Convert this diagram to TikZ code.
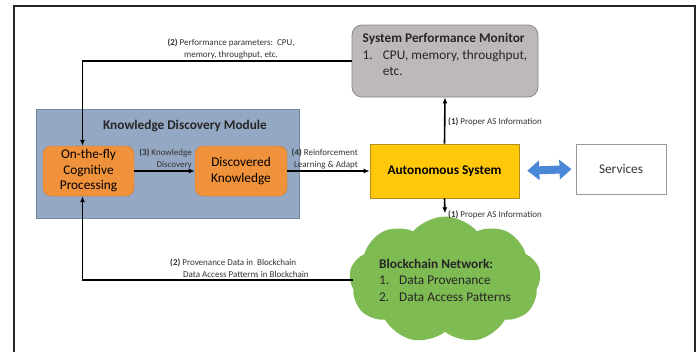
\documentclass[tikz,border=0pt]{standalone}
\usepackage{fontspec}
\setmainfont{Carlito}
\usetikzlibrary{shapes.symbols,arrows.meta}
\definecolor{spmgray}{HTML}{BDB9B8}
\definecolor{spmedge}{HTML}{8A8787}
\definecolor{kdmblue}{HTML}{95A8C3}
\definecolor{kdmedge}{HTML}{7388A6}
\definecolor{orng}{HTML}{F0913C}
\definecolor{yel}{HTML}{FFC80A}
\definecolor{yeledge}{HTML}{B08E20}
\definecolor{grn}{HTML}{7EBB52}
\definecolor{arrblue}{HTML}{4A87D6}
\definecolor{lbl}{HTML}{333333}
\tikzset{
  conn/.style={line width=1.6bp, black, -{Latex[length=6bp,width=5bp]}},
  smalllbl/.style={font=\fontsize{9bp}{11.8bp}\selectfont, text=lbl, inner sep=0pt},
  bigtxt/.style={font=\fontsize{13.3bp}{16.5bp}\selectfont},
  orangebox/.style={rectangle, rounded corners=8bp, fill=orng, draw=orng!85!black, line width=0.4bp,
    minimum width=91bp, minimum height=50bp, align=center, font=\fontsize{13.3bp}{15.5bp}\selectfont, inner sep=1bp},
}
\begin{document}
\begin{tikzpicture}[x=1bp,y=-1bp]
\clip (0,0) rectangle (699,351);
\fill[white] (0,0) rectangle (699,351);
% outer frame
\draw[line width=1.5bp, black!85] (14,400) -- (14,6) -- (695,6) -- (695,400);

% System performance monitor
\node[rectangle, rounded corners=10bp, fill=spmgray, draw=spmedge, line width=0.8bp,
  minimum width=186bp, minimum height=72bp, align=left, bigtxt, text=black!85] (spm) at (445,61)
  {\textbf{System Performance Monitor}\\1.\hspace{10bp}CPU, memory, throughput,\\\hphantom{1.}\hspace{10bp}etc.\\[-4bp]};

% Knowledge discovery module
\node[rectangle, fill=kdmblue, draw=kdmedge, line width=0.8bp,
  minimum width=263bp, minimum height=109bp] (kdm) at (167.5,163.5) {};
\node[font=\fontsize{13.3bp}{15bp}\selectfont\bfseries, text=black!85, inner sep=0pt] (kdmtitle) at (185,126) {Knowledge Discovery Module};

\node[orangebox] (otf) at (88.5,171) {On-the-fly\\Cognitive\\Processing};
\node[orangebox, minimum width=92bp] (dk) at (241,171) {Discovered\\Knowledge};

% Autonomous system
\node[rectangle, fill=yel, draw=yeledge, line width=0.6bp, minimum width=149bp, minimum height=54bp,
  font=\fontsize{13.3bp}{15bp}\selectfont\bfseries] (as) at (444.5,171) {Autonomous System};

% Services
\node[rectangle, fill=white, draw=black!40, line width=1bp, minimum width=90bp, minimum height=50bp,
  bigtxt, text=black!80] (svc) at (621,169) {Services};

% Blockchain cloud
\node[cloud, cloud puffs=9, cloud puff arc=100, aspect=1.8, fill=grn, draw=none,
  minimum width=182bp, minimum height=98bp, inner sep=0pt, align=left, bigtxt, text=black!85] (cloud) at (445,280)
  {\textbf{Blockchain Network:}\\1.\hspace{10bp}Data Provenance\\2.\hspace{10bp}Data Access Patterns};

% connectors
\draw[conn] (otf.east) -- (dk.west);
\draw[conn] (dk.east) -- (as.west);
\draw[conn] (as.north) -- (spm.south);
\draw[conn] (as.south) -- ([yshift=3bp]cloud.north);
\draw[conn] (spm.west) -| ([xshift=-6bp]otf.north);
\draw[conn] ([xshift=3bp]cloud.west) -| ([xshift=-6bp]otf.south);
\draw[line width=8bp, arrblue, {Triangle[length=12bp,width=19bp]}-{Triangle[length=12bp,width=19bp]},
  shorten <=8bp, shorten >=4bp] (as.east) -- (svc.west);

% labels
\node[smalllbl, align=center] (lperf) at (231,49) {\textbf{(2)} Performance parameters:\ \ CPU,\\memory, throughput, etc.};
\node[smalllbl, align=left, anchor=west] (lprov) at (170,268) {\textbf{(2)} Provenance Data in\ \ Blockchain\\\hspace{13bp}Data Access Patterns in Blockchain};
\node[smalllbl, align=right, anchor=east] (lkd) at (192,159) {\textbf{(3)} Knowledge\\Discovery};
\node[smalllbl, align=right, anchor=east] (lrl) at (358,159) {\textbf{(4)} Reinforcement\\Learning \& Adapt};
\node[smalllbl, anchor=west] (las1) at (448,122) {\textbf{(1)} Proper AS Information};
\node[smalllbl, anchor=west] (las2) at (448,215) {\textbf{(1)} Proper AS Information};
\end{tikzpicture}
\end{document}
